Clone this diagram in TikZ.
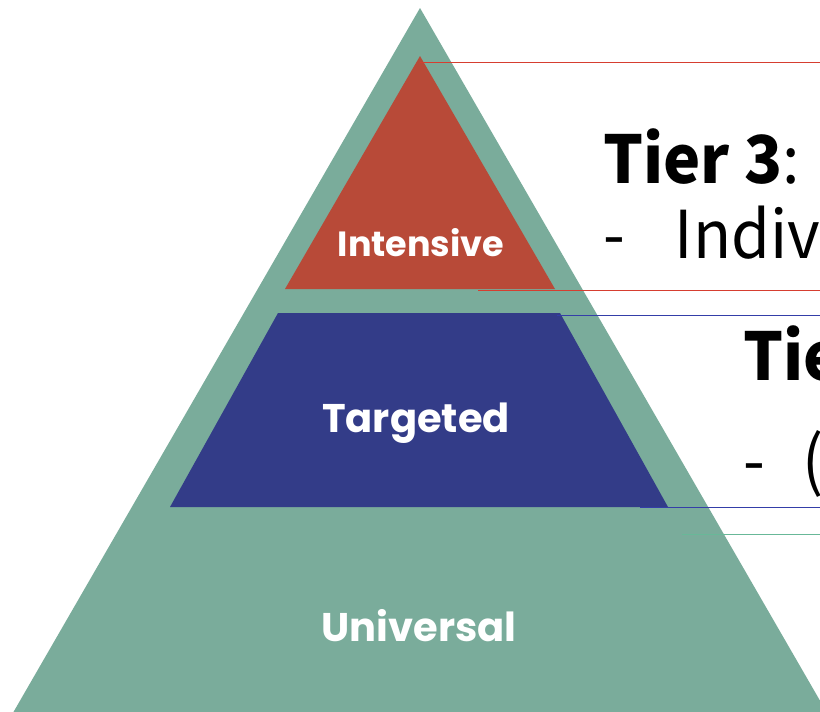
\documentclass[tikz,border=0pt]{standalone}
\usepackage{fontspec}
\setmainfont{Noto Sans CJK SC}[FakeStretch=0.95]
\newfontfamily\tierfont{Poppins}

\definecolor{universal}{RGB}{122,172,155}
\definecolor{intensive}{RGB}{184,74,56}
\definecolor{targeted}{RGB}{51,60,136}
\definecolor{redline}{RGB}{214,62,48}
\definecolor{blueline}{RGB}{52,62,168}
\definecolor{greenline}{RGB}{104,184,152}

\begin{document}
\begin{tikzpicture}
                \tikzset{x=1pt, y=-1pt}
                \tikzstyle{level}=[text=white, inner sep=0pt, font=\tierfont\bfseries\fontsize{40}{46}\selectfont]
                \tikzstyle{head}=[anchor=base west, inner sep=0pt, font=\fontsize{66}{72}\selectfont]
                \tikzstyle{rule}=[line width=0.9pt]

                \clip (0,0) rectangle (820,712);
                \fill[white] (0,0) rectangle (820,712);

                % the three layers
                \fill[universal] (420,8) -- (830,718) -- (10,718) -- cycle;
                \fill[intensive] (420,56) -- (555,289) -- (285,289) -- cycle;
                \fill[targeted]  (278,313) -- (560,313) -- (668,507) -- (170,507) -- cycle;

                \draw (421,243)     node[level, font=\tierfont\bfseries\fontsize{35}{40}\selectfont]
                                                    (int)   {Intensive};
                \draw (416,423)     node[level]     (tgt)   {Targeted};
                \draw (419,626)     node[level]     (uni)   {Universal};

                % tier headings
                \draw (603,183)     node[head]      (t3)    {\textbf{Tier 3}:};
                \draw (603,258)     node[head]      (t3a)   {-\hspace{50pt}Individual};
                \draw (743,380)     node[head]      (t2)    {\textbf{Tier 2}:};
                \draw (743,484)     node[head]      (t2a)   {-\hspace{38pt}(};

                % guide lines out to the right
                \coordinate (r3top) at (420,62);
                \coordinate (r3bot) at (478,290);
                \coordinate (b2top) at (557,315);
                \coordinate (b2bot) at (640,507);
                \coordinate (g1top) at (682,534);
                \coordinate (e1) at (830,62);
                \coordinate (e2) at (830,290);
                \coordinate (e3) at (830,315);
                \coordinate (e4) at (830,507);
                \coordinate (e5) at (830,534);

                \draw [rule, redline]    (r3top) -- (e1);
                \draw [rule, redline]    (r3bot) -- (e2);
                \draw [rule, blueline]   (b2top) -- (e3);
                \draw [rule, blueline]   (b2bot) -- (e4);
                \draw [rule, greenline]  (g1top) -- (e5);
            \end{tikzpicture}
\end{document}
